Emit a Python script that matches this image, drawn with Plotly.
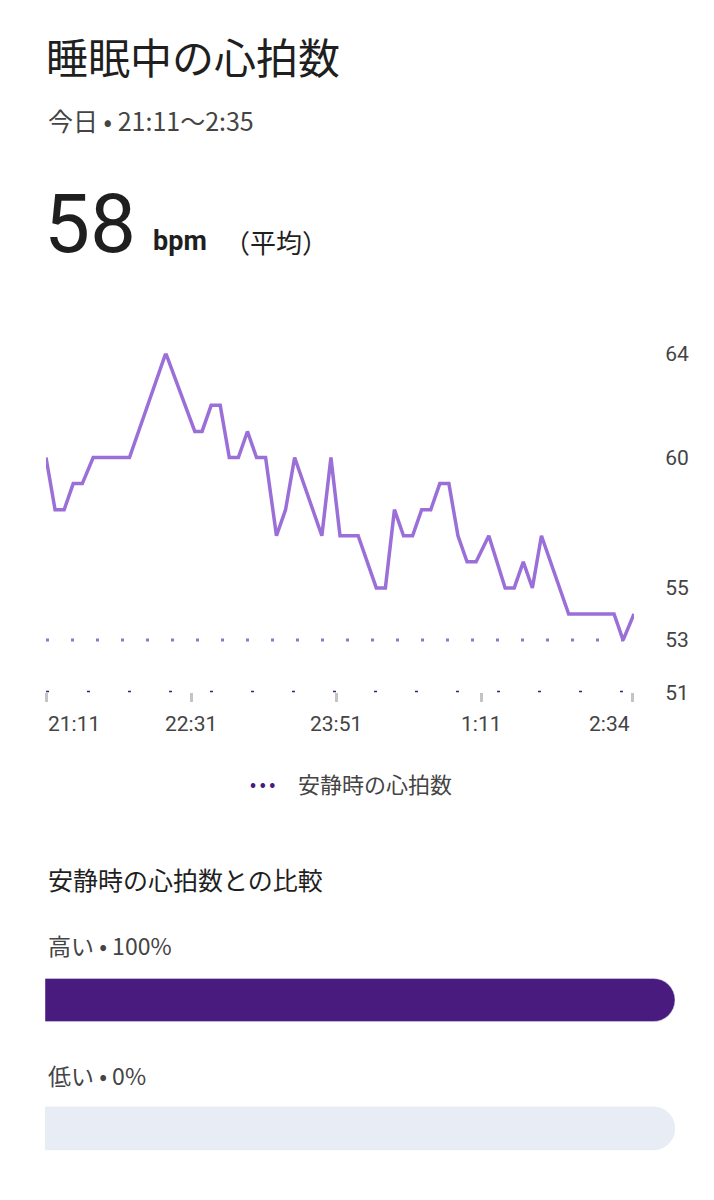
import plotly.graph_objects as go

W, H = 714, 1200
# minutes since 21:11
minutes = [0,5,10,15,20,26,46,66,82,86,91,96,101,106,111,116,121,127,132,137,152,157,162,172,182,187,192,197,202,207,212,217,222,227,232,237,244,253,258,263,268,273,288,313,318,324]
bpm = [60,58,58,59,59,60,60,64,61,61,62,62,60,60,61,60,60,57,58,60,57,60,57,57,55,55,58,57,57,58,58,59,59,57,56,56,57,55,55,56,55,57,54,54,53,54]
resting = 53
y_ticks = [51,53,55,60,64]
x_tickvals = [0,80,160,240,323]
x_ticktext = ["21:11","22:31","23:51","1:11","2:34"]
comp_labels = ["高い • 100%", "低い • 0%"]
comp_values = [100, 0]

def px(x): return x / W
def py(y): return 1 - y / H

PURPLE = "#9b6fd8"
DARK = "#4a1b7e"
GREY = "#444444"
FONT = "Noto Sans CJK JP"

fig = go.Figure()
fig.add_trace(go.Scatter(x=[0, 324], y=[resting, resting], mode="lines",
    line=dict(color="#9b6fd8", width=3, dash="3px,22px"), hoverinfo="skip", cliponaxis=False))
fig.add_trace(go.Scatter(x=[0, 324], y=[51, 51], mode="lines",
    line=dict(color=DARK, width=3, dash="3px,38px"), hoverinfo="skip"))
fig.add_trace(go.Scatter(x=minutes, y=bpm, mode="lines",
    line=dict(color=PURPLE, width=3.5), cliponaxis=False))

# comparison bars
fig.add_trace(go.Bar(x=[100, 100], y=[0, 1], orientation="h", marker_color="#e8ecf5",
    xaxis="x2", yaxis="y2", width=44/131))
fig.add_trace(go.Bar(x=comp_values, y=[0, 1], orientation="h", marker_color=DARK,
    xaxis="x2", yaxis="y2", width=44/131))

fig.update_layout(
    width=W, height=H, margin=dict(l=0, r=0, t=0, b=0),
    paper_bgcolor="white", plot_bgcolor="white", showlegend=False,
    font=dict(family=FONT, color=GREY),
    barmode="overlay", barcornerradius=22,
    xaxis=dict(domain=[px(38), px(626)], range=[0, 324], showgrid=False, zeroline=False,
        showline=False, tickvals=x_tickvals, showticklabels=False, ticks="outside",
        ticklen=9, tickwidth=3, tickcolor="#c4c4c4"),
    yaxis=dict(domain=[py(686), py(340)], range=[51, 64], side="right", showgrid=False,
        zeroline=False, showline=False, tickvals=y_ticks, ticks="outside", ticklen=26,
        tickcolor="rgba(0,0,0,0)", tickfont=dict(size=21, color=GREY, family="Roboto")),
    xaxis2=dict(domain=[px(37), px(667)], range=[0, 100], visible=False, anchor="y2"),
    yaxis2=dict(domain=[py(1196.5), py(934.5)], range=[1.5, -0.5], visible=False, anchor="x2"),
)

ann = []
def T(x, y, text, size, color="#1f1f1f", xanchor="left", **kw):
    ann.append(dict(x=px(x), y=py(y), xref="paper", yref="paper", text=text, showarrow=False,
        xanchor=xanchor, yanchor="middle", font=dict(size=size, color=color, family=kw.get("family", FONT))))

T(36, 36, "睡眠中の心拍数", 42)
T(38, 102, "今日 • 21:11〜2:35", 25, GREY)
T(34, 208, "58", 82, "#1f1f1f", family="Roboto")
T(143, 226, "<b>bpm</b>", 27, "#1f1f1f", family="Roboto")
T(214, 226, "（平均）", 26, "#1f1f1f")
T(240, 779, "<b>• • •</b>", 16, DARK)
T(288, 779, "安静時の心拍数", 22, GREY)
T(38, 877, "安静時の心拍数との比較", 25, "#1f1f1f")
T(38, 944, comp_labels[0], 23, GREY)
T(38, 1077, comp_labels[1], 23, GREY)
fig.update_layout(annotations=ann)

anchors = ["left", "center", "center", "center", "right"]
for v, t, a in zip(x_tickvals, x_ticktext, anchors):
    fig.add_annotation(x=v, y=py(718), xref="x", yref="paper", text=t, showarrow=False,
        xanchor=a, yanchor="middle", font=dict(size=21, color=GREY, family="Roboto"))

fig.write_html("out.html")
